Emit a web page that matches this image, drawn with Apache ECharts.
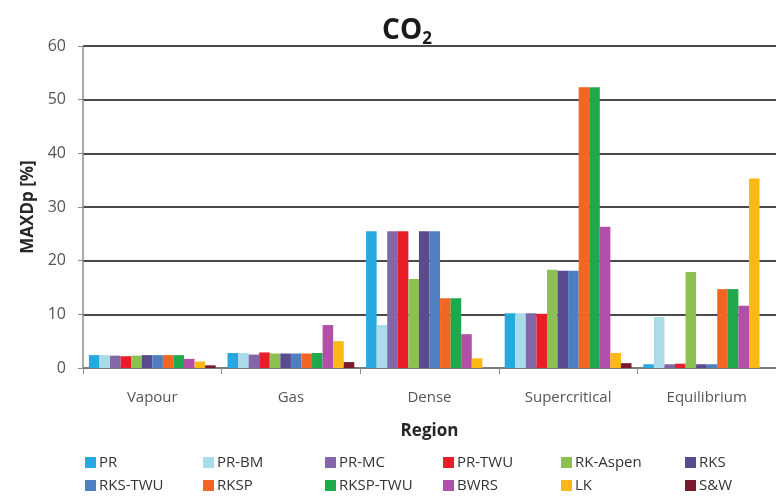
<!DOCTYPE html>
<html>
<head>
<meta charset="utf-8">
<title>CO2 MAXDp by region</title>
<script src="https://cdn.jsdelivr.net/npm/echarts@6/dist/echarts.min.js"></script>
<style>
  html, body { margin: 0; padding: 0; background: #fff; }
  #chart { width: 776px; height: 496px; }
</style>
</head>
<body>
<div id="chart"></div>
<script>
// Regions on the category axis
const regions = ['Vapour', 'Gas', 'Dense', 'Supercritical', 'Equilibrium'];

// Value-axis ticks (MAXDp, %)
const yTicks = [0, 10, 20, 30, 40, 50, 60];

// Maximum pressure deviation per equation of state, one value per region
const PR        = [2.4, 2.8, 25.5, 10.2, 0.7];
const PR_BM     = [2.4, 2.8,  8.0, 10.2, 9.5];
const PR_MC     = [2.3, 2.5, 25.5, 10.2, 0.7];
const PR_TWU    = [2.2, 2.9, 25.5, 10.1, 0.8];
const RK_Aspen  = [2.3, 2.7, 16.6, 18.3, 17.9];
const RKS       = [2.4, 2.7, 25.5, 18.1, 0.7];
const RKS_TWU   = [2.4, 2.7, 25.5, 18.1, 0.7];
const RKSP      = [2.4, 2.7, 13.0, 52.3, 14.7];
const RKSP_TWU  = [2.4, 2.8, 13.0, 52.3, 14.7];
const BWRS      = [1.7, 8.0,  6.3, 26.3, 11.6];
const LK        = [1.2, 5.0,  1.8,  2.8, 35.3];
const SW        = [0.5, 1.1,  0.0,  0.9, 0.0];

const seriesDefs = [
  { name: 'PR',       data: PR,       color: '#27a8df' },
  { name: 'PR-BM',    data: PR_BM,    color: '#a9dbe9' },
  { name: 'PR-MC',    data: PR_MC,    color: '#8266a8' },
  { name: 'PR-TWU',   data: PR_TWU,   color: '#e91d2a' },
  { name: 'RK-Aspen', data: RK_Aspen, color: '#8cc152' },
  { name: 'RKS',      data: RKS,      color: '#5a4a8e' },
  { name: 'RKS-TWU',  data: RKS_TWU,  color: '#4f7fc0' },
  { name: 'RKSP',     data: RKSP,     color: '#f26524' },
  { name: 'RKSP-TWU', data: RKSP_TWU, color: '#1fa84c' },
  { name: 'BWRS',     data: BWRS,     color: '#b24fa9' },
  { name: 'LK',       data: LK,       color: '#fcb813' },
  { name: 'S&W',      data: SW,       color: '#7a1a2c' }
];

const FONT = '"Open Sans", "Noto Sans", sans-serif';

// Legend laid out as a 6 x 2 table: one legend block per entry
const legendCols = [85, 203, 325, 443, 561, 685];
const legendRows = [455, 478];
const legends = seriesDefs.map((s, i) => ({
  data: [s.name],
  left: legendCols[i % 6],
  top: legendRows[Math.floor(i / 6)],
  icon: 'rect',
  itemWidth: 11,
  itemHeight: 11,
  itemGap: 0,
  padding: 0,
  textStyle: { fontFamily: FONT, fontSize: 15, color: '#333333', padding: [0, 0, 0, -2] },
  selectedMode: false
}));

const chart = echarts.init(document.getElementById('chart'), null, { renderer: 'canvas' });

chart.setOption({
  animation: false,
  backgroundColor: '#ffffff',
  title: {
    text: '{a|CO}{b|2}',
    left: 402,
    top: 10,
    textAlign: 'center',
    textStyle: {
      rich: {
        a: { fontFamily: FONT, fontSize: 28, fontWeight: 'bold', color: '#1a1a1a' },
        b: { fontFamily: FONT, fontSize: 17, fontWeight: 'bold', color: '#1a1a1a', padding: [16, 0, 0, 0] }
      }
    }
  },
  legend: legends,
  grid: { left: 83, top: 46, right: -7, bottom: 128, containLabel: false },
  xAxis: {
    type: 'category',
    data: regions,
    name: 'Region',
    nameLocation: 'middle',
    nameGap: 55,
    nameTextStyle: { fontFamily: FONT, fontSize: 17, fontWeight: 'bold', color: '#262626' },
    axisLine: { lineStyle: { color: '#8c8c8c', width: 1.5 } },
    axisTick: { show: true, length: 6, lineStyle: { color: '#8c8c8c' } },
    axisLabel: { fontFamily: FONT, fontSize: 15, color: '#555555', margin: 22 }
  },
  yAxis: {
    type: 'value',
    min: yTicks[0],
    max: yTicks[yTicks.length - 1],
    interval: yTicks[1] - yTicks[0],
    name: 'MAXDp [%]',
    nameLocation: 'middle',
    nameGap: 45,
    nameTextStyle: { fontFamily: FONT, fontSize: 17, fontWeight: 'bold', color: '#262626' },
    axisLine: { show: true, lineStyle: { color: '#8c8c8c', width: 1.5 } },
    axisTick: { show: true, length: 5, lineStyle: { color: '#8c8c8c' } },
    axisLabel: { fontFamily: FONT, fontSize: 16, color: '#555555', margin: 17 },
    splitLine: { show: true, lineStyle: { color: '#4a4a4a', width: 2 } }
  },
  series: seriesDefs.map(s => ({
    type: 'bar',
    name: s.name,
    data: s.data,
    itemStyle: { color: s.color },
    barGap: '0%',
    barCategoryGap: '8.5%'
  }))
});
</script>
</body>
</html>
